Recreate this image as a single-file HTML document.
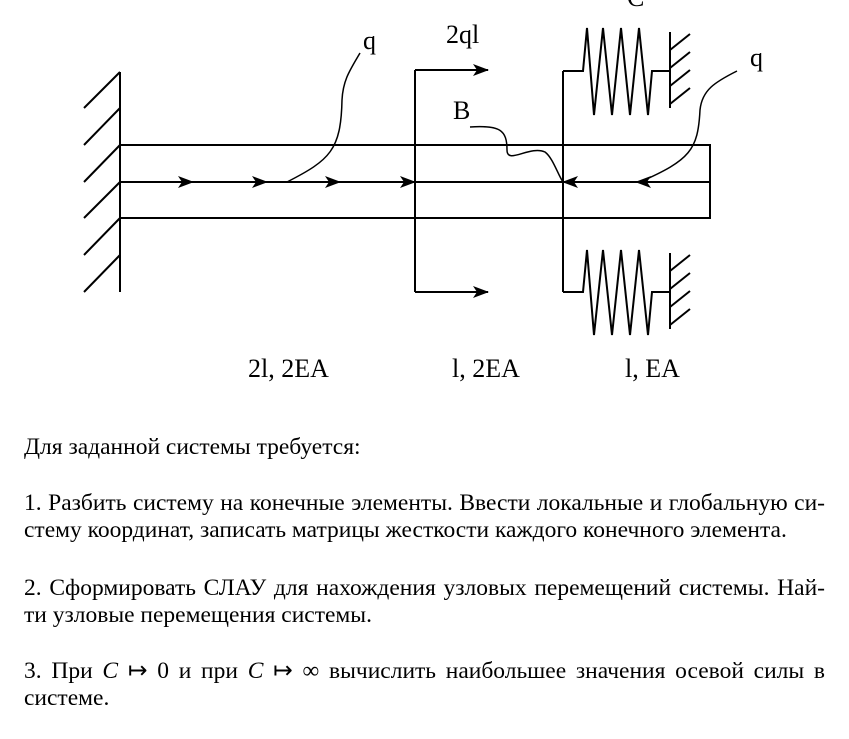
<!DOCTYPE html>
<html><head><meta charset="utf-8"><style>
body{margin:0;width:849px;height:739px;background:#fff;position:relative;overflow:hidden;font-family:"Liberation Serif",serif;}
.t{position:absolute;left:24px;width:801px;font-size:23.5px;line-height:27px;white-space:nowrap;color:#000}
.j{text-align:justify;text-align-last:justify;white-space:normal}
.i{font-style:italic}
</style></head><body>
<svg width="849" height="420" style="position:absolute;left:0;top:0" font-family="Liberation Serif, serif" font-size="26">
<defs>
<marker id="b" markerWidth="16" markerHeight="12" refX="15" refY="6" orient="auto" markerUnits="userSpaceOnUse"><path d="M0,0 L16,6 L0,12 L4,6 z" fill="#000"/></marker></defs>
<g stroke="#000" stroke-width="2" fill="none">
<line x1="120" y1="72" x2="120" y2="292"/>
<path d="M120,72 L84,108 M120,108 L84,145 M120,145 L84,182 M120,182 L84,218 M120,218 L84,255 M120,255 L84,292"/>
<path d="M120,145 H710 V218 H120"/>
<line x1="120" y1="182" x2="710" y2="182"/>
<line x1="415" y1="70" x2="415" y2="292"/>
<line x1="563" y1="71" x2="563" y2="292"/>
<path d="M120,182 H193" marker-end="url(#b)"/><path d="M193,182 H267" marker-end="url(#b)"/><path d="M267,182 H340" marker-end="url(#b)"/><path d="M340,182 H415" marker-end="url(#b)"/>
<path d="M710,182 H636" marker-end="url(#b)"/><path d="M636,182 H563" marker-end="url(#b)"/>
<path d="M415,70 H488" marker-end="url(#b)"/><path d="M415,292 H488" marker-end="url(#b)"/>
<path d="M563,71 H583 L587,28 L594,115 L603,28 L612,115 L621,28 L630,115 L639,28 L648,115 L652,71 H670"/>
<path d="M670,32 V108 M670,50 L690,34 M670,68 L690,52 M670,86 L690,70 M670,104 L690,88"/>
<path d="M563,292 H583 L587,250 L594,335 L603,250 L612,335 L621,250 L630,335 L639,250 L648,335 L652,292 H670"/>
<path d="M670,253 V329 M670,271 L690,255 M670,289 L690,273 M670,307 L690,291 M670,325 L690,309"/>
<path d="M360,53 C350,70 343,80 342,100 C341,150 330,160 287,182" stroke-width="1.5"/>
<path d="M470,127 C500,125 507,130 507,150 C507,165 530,145 545,152 C553,158 558,175 563,182" stroke-width="1.5"/>
<path d="M737,71 C715,82 702,90 700,110 C698,150 690,160 640,182" stroke-width="1.5"/>
</g>
<text x="363" y="49">q</text>
<text x="446" y="43">2ql</text>
<text x="453" y="119">B</text>
<text x="750" y="66">q</text>
<text x="627" y="6">C</text>
<text x="248" y="377">2l, 2EA</text>
<text x="452" y="377">l, 2EA</text>
<text x="625" y="377">l, EA</text>
</svg>
<div class="t" style="top:434px">Для заданной системы требуется:</div>
<div class="t j" style="top:490px">1. Разбить систему на конечные элементы. Ввести локальные и глобальную си-</div>
<div class="t" style="top:517px">стему координат, записать матрицы жесткости каждого конечного элемента.</div>
<div class="t j" style="top:575px">2. Сформировать СЛАУ для нахождения узловых перемещений системы. Най-</div>
<div class="t" style="top:602px">ти узловые перемещения системы.</div>
<div class="t j" style="top:658px">3. При <span class="i">C</span> ↦ 0 и при <span class="i">C</span> ↦ ∞ вычислить наибольшее значения осевой силы в</div>
<div class="t" style="top:685px">системе.</div>
</body></html>
